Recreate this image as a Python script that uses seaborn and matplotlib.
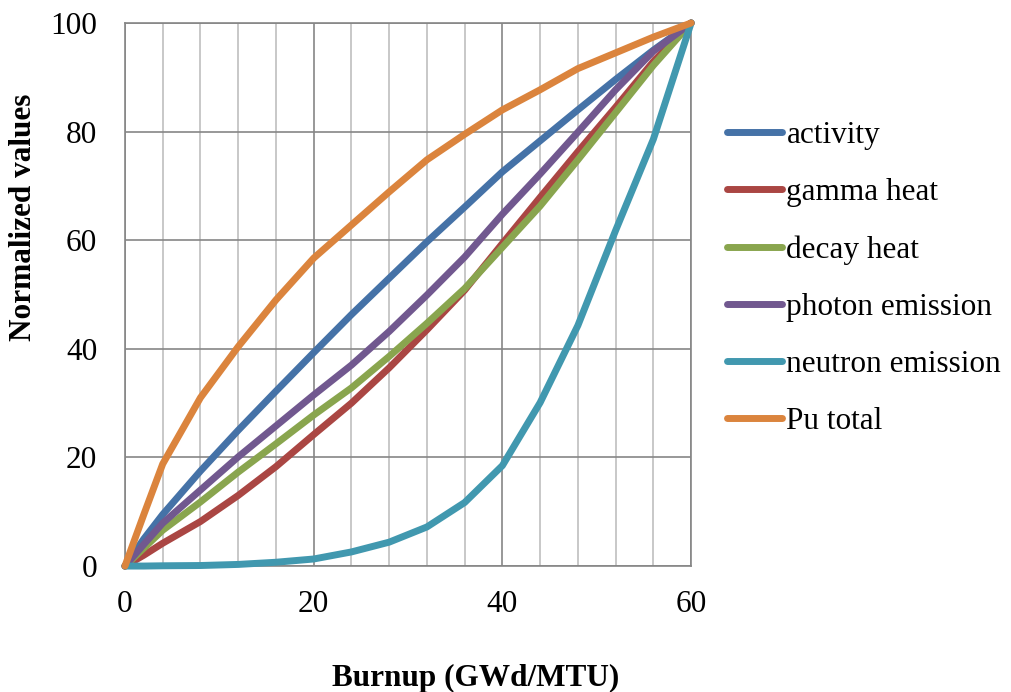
import matplotlib
matplotlib.use("Agg")
import matplotlib.pyplot as plt
import seaborn as sns
import pandas as pd
from matplotlib.ticker import MultipleLocator
from matplotlib.lines import Line2D

# ---- data ----
burnup = [0, 2, 4, 8, 12, 16, 20, 24, 28, 32, 36, 40, 44, 48, 52, 56, 60]
activity = [0, 5.0, 9.5, 17.5, 25.0, 32.2, 39.3, 46.3, 53.0, 59.7, 66.1, 72.6, 78.3, 84.0, 89.6, 95.0, 100]
gamma_heat = [0, 2.0, 4.2, 8.2, 13.0, 18.3, 24.2, 30.0, 36.5, 43.5, 50.8, 59.4, 67.9, 76.3, 84.5, 92.9, 100]
decay_heat = [0, 3.3, 6.6, 11.8, 17.3, 22.5, 27.8, 32.8, 38.6, 44.7, 51.1, 58.7, 66.3, 74.8, 83.5, 92.2, 100]
photon_emission = [0, 4.0, 7.9, 14.0, 20.1, 25.8, 31.5, 37.0, 43.2, 49.9, 56.9, 64.8, 72.2, 79.9, 87.7, 94.8, 100]
neutron_emission = [0, 0, 0.05, 0.1, 0.3, 0.7, 1.3, 2.6, 4.4, 7.2, 11.7, 18.5, 30.1, 44.3, 61.8, 78.6, 100]
pu_total = [0, 9.5, 18.8, 31.0, 40.4, 49.0, 56.7, 62.8, 68.9, 74.8, 79.5, 84.0, 87.7, 91.6, 94.5, 97.4, 100]

series_names = ["activity", "gamma heat", "decay heat", "photon emission",
                "neutron emission", "Pu total"]
series_values = [activity, gamma_heat, decay_heat, photon_emission,
                 neutron_emission, pu_total]
colors = ["#4572A7", "#AA4643", "#89A54E", "#71588F", "#4198AF", "#DB843D"]
x_ticks = [0, 20, 40, 60]
y_ticks = [0, 20, 40, 60, 80, 100]

rows = []
for name, vals in zip(series_names, series_values):
    for b, v in zip(burnup, vals):
        rows.append({"Burnup": b, "value": v, "series": name})
df = pd.DataFrame(rows)

sns.set_theme(style="white")
plt.rcParams["font.family"] = ["Liberation Serif", "DejaVu Serif"]
plt.rcParams["text.color"] = "black"
plt.rcParams["xtick.color"] = "black"
plt.rcParams["ytick.color"] = "black"

FS = 22.5
LW = 5.0
fig = plt.figure(figsize=(10.11, 6.92), dpi=100)
ax = fig.add_axes([0.1236, 0.182, 0.5600, 0.7848])

major_c = "#868686"
minor_c = "#BFBFBF"

ax.set_xlim(0, 60)
ax.set_ylim(0, 100)
ax.xaxis.set_major_locator(MultipleLocator(20))
ax.xaxis.set_minor_locator(MultipleLocator(4))
ax.set_xticks(x_ticks)
ax.set_yticks(y_ticks)
ax.grid(which="minor", axis="x", color=minor_c, linewidth=1.2, zorder=0)
ax.grid(which="major", axis="both", color=major_c, linewidth=1.2, zorder=0)
ax.set_axisbelow(True)

sns.lineplot(data=df, x="Burnup", y="value", hue="series",
             hue_order=series_names, palette=colors, linewidth=LW,
             sort=False, ax=ax, legend=False, zorder=3)
for ln in ax.get_lines():
    ln.set_solid_capstyle("round")
    ln.set_solid_joinstyle("round")
    ln.set_clip_on(False)

for s in ax.spines.values():
    s.set_color(major_c)
    s.set_linewidth(1.2)

ax.tick_params(axis="both", which="both", length=0, labelsize=FS,
               labelcolor="black")
ax.tick_params(axis="x", pad=17)
ax.tick_params(axis="y", pad=20)
ax.set_xlabel("")
ax.set_ylabel("")

fig.text(0.4708, 0.02, "Burnup (GWd/MTU)", ha="center", va="center",
         fontsize=FS, fontweight="bold", color="black")
fig.text(0.0228, 0.686, "Normalized values", ha="center", va="center",
         rotation=90, fontsize=FS, fontweight="bold", color="black")

handles = [Line2D([0], [0], color=c, linewidth=LW, solid_capstyle="round")
           for c in colors]
leg = fig.legend(handles, series_names, loc="upper left",
                 bbox_to_anchor=(727 / 1011, 1 - 121 / 692), frameon=False,
                 fontsize=FS, handlelength=1.75, handletextpad=0.15,
                 labelspacing=0.9, borderpad=0, borderaxespad=0)
for t in leg.get_texts():
    t.set_color("black")

fig.savefig("out.png", dpi=100, facecolor="white")
